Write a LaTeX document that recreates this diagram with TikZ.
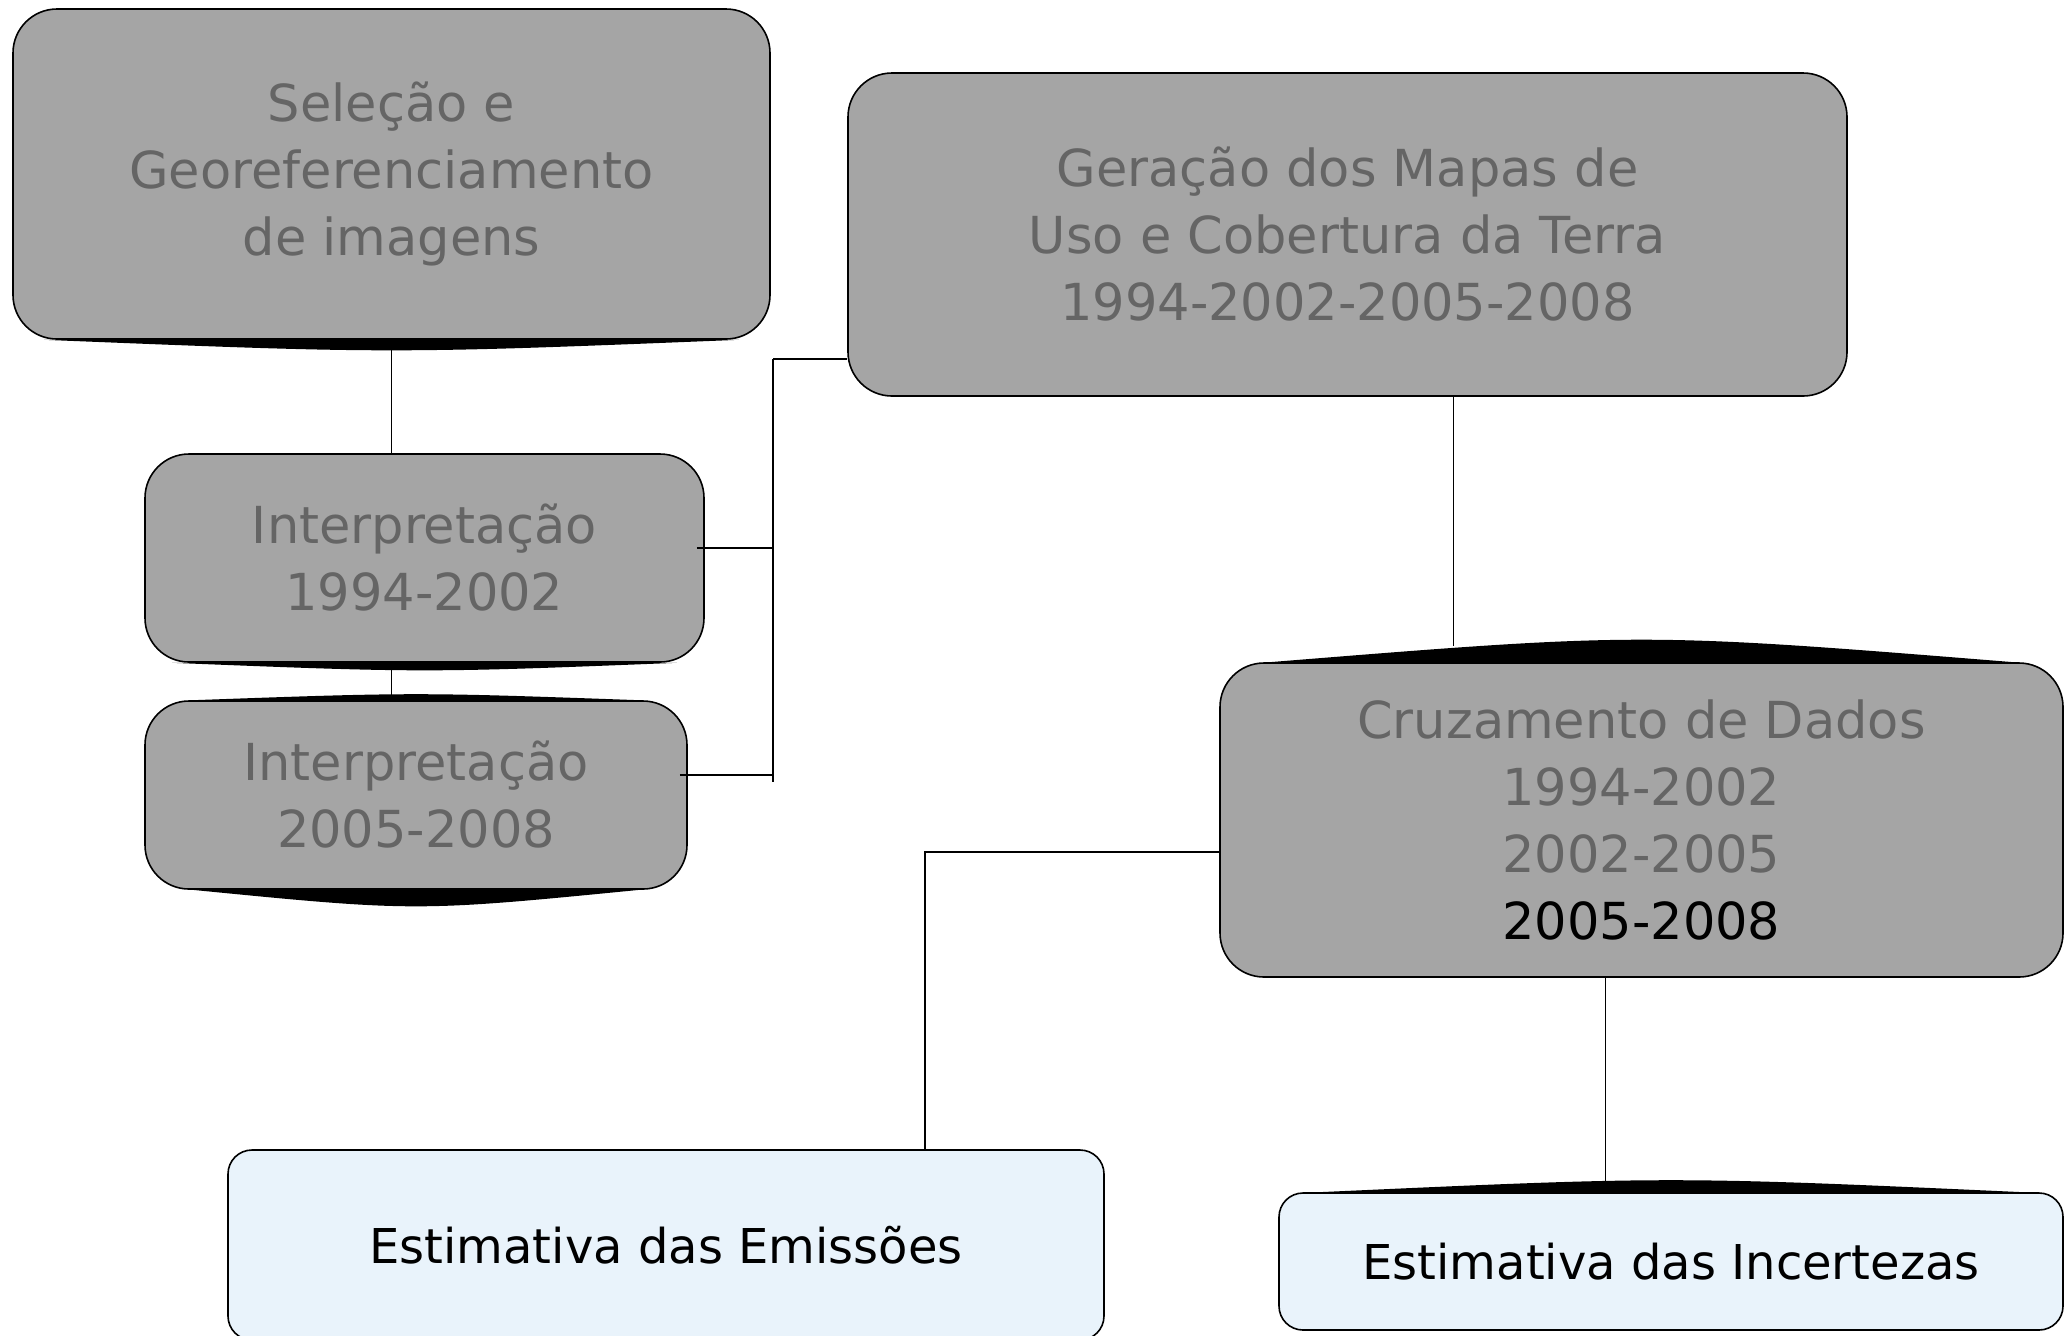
\documentclass[tikz,border=0pt]{standalone}
\usepackage{fontspec}
\setmainfont{DejaVu Sans}
\usepackage{xcolor}
\definecolor{boxgrey}{HTML}{A5A5A5}
\definecolor{textgrey}{HTML}{656565}
\definecolor{paleblue}{HTML}{E9F3FB}
\tikzstyle{grey box}=[
        draw = black,
        line width = 0.8pt,
        fill = boxgrey,
        text = textgrey,
        rounded corners = 22pt,
        align = center,
        font = \fontsize{25.5}{33.5}\selectfont
    ]
\tikzstyle{blue box}=[
    draw = black,
    line width = 0.8pt,
    fill = paleblue,
    text = black,
    rounded corners = 12pt,
    font = \fontsize{24}{30}\selectfont
]

\begin{document}
\begin{tikzpicture}[x=0.5pt, y=-0.5pt, line width=0.85pt]
        \useasboundingbox (0,0) rectangle (2071,1335);

        \node[grey box, minimum width=378.5pt, minimum height=165pt] (sel) at (391.5,174) {Seleção e\\Georeferenciamento\\de imagens};
        \node[grey box, minimum width=499.5pt, minimum height=161.5pt] (geo) at (1347.5,234.5) {Geração dos Mapas de\\Uso e Cobertura da Terra\\1994-2002-2005-2008};
        \node[grey box, minimum width=279.5pt, minimum height=104pt] (int1) at (424.5,558) {Interpretação\\1994-2002};
        \node[grey box, minimum width=271pt, minimum height=94pt] (int2) at (416,795) {Interpretação\\2005-2008};
        \node[grey box, minimum width=421.5pt, minimum height=157pt] (cruz) at (1641.5,820) {Cruzamento de Dados\\1994-2002\\2002-2005\\\textcolor{black}{2005-2008}};
        \node[blue box, minimum width=438pt, minimum height=95pt] (emis) at (666,1245) {Estimativa das Emissões};
        \node[blue box, minimum width=392pt, minimum height=68.5pt] (inc) at (1671,1261.5) {Estimativa das Incertezas};

        % black bulges on the box edges
        \fill ([xshift=16pt]sel.south west) .. controls ([yshift=-7pt]sel.south) .. ([xshift=-16pt]sel.south east) -- cycle;
        \fill ([xshift=14pt]int1.south west) .. controls ([yshift=-5pt]int1.south) .. ([xshift=-14pt]int1.south east) -- cycle;
        \fill ([xshift=24pt]int2.south west) .. controls ([yshift=-11pt]int2.south) .. ([xshift=-24pt]int2.south east) -- cycle;
        \fill ([xshift=24pt]int2.north west) .. controls ([yshift=4pt]int2.north) .. ([xshift=-24pt]int2.north east) -- cycle;
        \fill ([xshift=25pt]cruz.north west) .. controls ([yshift=15pt]cruz.north) .. ([xshift=-25pt]cruz.north east) -- cycle;
        \fill ([xshift=20pt]inc.north west) .. controls ([yshift=8pt]inc.north) .. ([xshift=-20pt]inc.north east) -- cycle;

        \coordinate (bus top) at (773,359);
        \coordinate (bus bot) at (773,782);
        \coordinate (elbow) at (925,852);

        \draw[-] (sel.south) -- (sel.south |- int1.north);
        \draw[-] (sel.south |- int1.south) -- (sel.south |- int2.north);
        \draw[-] ([xshift=-4pt,yshift=5pt]int1.east) -- ([yshift=5pt]int1.east -| bus top);
        \draw[-] ([xshift=-4pt,yshift=10pt]int2.east) -- ([yshift=10pt]int2.east -| bus top);
        \draw[-] (bus top) -- (bus bot);
        \draw[-] (bus top) -- (bus top -| geo.west);
        \draw[-] ([xshift=53pt]geo.south) -- ([xshift=53pt,yshift=8pt]geo.south |- cruz.north);
        \draw[-] (cruz.west |- elbow) -- (elbow) -- (elbow |- emis.north);
        \draw[-] ([xshift=-18pt]cruz.south) -- ([xshift=-18pt]cruz.south |- inc.north);

    \end{tikzpicture}
\end{document}
